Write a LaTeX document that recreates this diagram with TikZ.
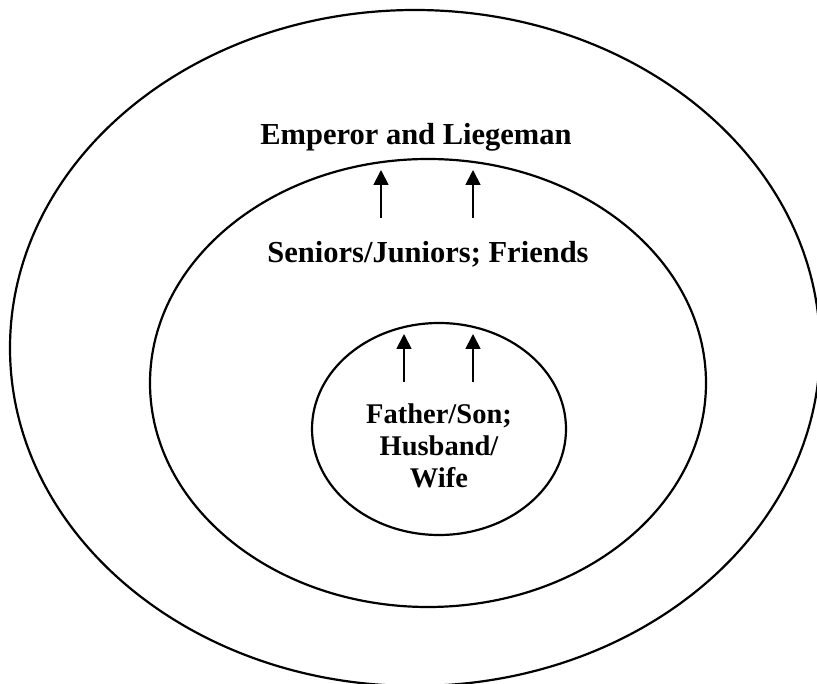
\documentclass[tikz,border=0pt]{standalone}
\usepackage{fontspec}
\setmainfont{Liberation Serif}
\usetikzlibrary{shapes.geometric,arrows.meta}

\tikzset{
  ring/.style={draw, shape=ellipse, inner sep=0pt, line width=2.2pt},
  bigtext/.style={anchor=base, inner sep=0pt, font=\bfseries\fontsize{30.5}{32}\selectfont},
  coretext/.style={anchor=base, inner sep=0pt, align=center,
    font=\bfseries\fontsize{28.5}{32}\selectfont},
  uparrow/.style={line width=1.8pt, -{Triangle[width=15pt,length=15pt]}}
}

\begin{document}
\begin{tikzpicture}[x=1pt, y=-1pt]
  \useasboundingbox (0,0) rectangle (817,684);
  \clip (0,0) rectangle (817,684);

  % the three nested circles of relationships
  \node[ring, minimum width=810pt, minimum height=676pt] (outer) at (415,348) {};
  \node[ring, minimum width=556pt, minimum height=448pt] (middle) at (428,383) {};
  \node[ring, minimum width=254pt, minimum height=212pt] (inner) at (439,429) {};

  % labels (the base anchor of the three-line label sits on its last line)
  \node[bigtext] (emperor) at (416,145) {Emperor and Liegeman};
  \node[bigtext] (seniors) at (428,263) {Seniors/Juniors; Friends};
  \node[coretext] (family) at (439,487) {Father/Son;\\Husband/\\Wife};

  % arrows crossing the middle ring
  \coordinate (t1) at (381,218); \coordinate (h1) at (381,170);
  \coordinate (t2) at (473,218); \coordinate (h2) at (473,170);
  \draw[uparrow] (t1) -- (h1);
  \draw[uparrow] (t2) -- (h2);

  % arrows crossing the inner ring
  \coordinate (t3) at (404,382); \coordinate (h3) at (404,334);
  \coordinate (t4) at (473,382); \coordinate (h4) at (473,334);
  \draw[uparrow] (t3) -- (h3);
  \draw[uparrow] (t4) -- (h4);
\end{tikzpicture}
\end{document}
